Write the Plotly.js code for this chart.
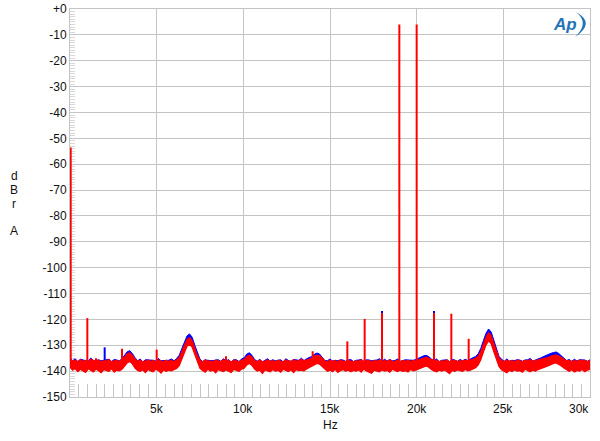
<!DOCTYPE html>
<html>
<head>
<meta charset="utf-8">
<script src="https://cdn.plot.ly/plotly-3.0.1.min.js"></script>
<style>
  html, body { margin: 0; padding: 0; background: #ffffff; }
  #chart { width: 600px; height: 441px; }
</style>
</head>
<body>
<div id="chart"></div>
<script>
// ---- Data ----
// FFT noise band (upper / lower envelope), read every 150 Hz from 0 Hz to 30 kHz
var freqStart = 0;
var freqStep = 150;

var redUpper = [
  -135.2,-136.1,-135.8,-136.4,-135.6,-136.2,-135.9,-136.6,-135.4,-136.0,
  -136.3,-135.7,-136.5,-135.9,-136.1,-135.5,-136.4,-136.0,-135.8,-136.3,
  -135.6,-134.6,-133.3,-132.9,-133.9,-135.3,-136.2,-135.8,-136.5,-136.0,
  -135.7,-136.3,-135.9,-136.6,-135.6,-136.1,-136.4,-135.8,-136.2,-135.9,
  -136.3,-135.6,-134.8,-132.4,-129.8,-127.8,-127.0,-128.3,-131.2,-134.0,
  -135.9,-136.4,-135.7,-136.2,-136.0,-136.5,-135.8,-136.1,-136.3,-135.6,
  -136.2,-135.9,-136.6,-135.7,-136.0,-136.4,-135.8,-135.5,-134.3,-133.8,
  -134.6,-135.9,-136.3,-135.8,-136.5,-136.0,-135.7,-136.2,-135.9,-136.4,
  -135.8,-136.1,-136.5,-135.7,-136.0,-136.3,-135.6,-136.2,-135.9,-135.5,
  -136.0,-135.6,-135.4,-135.0,-134.2,-133.8,-134.1,-135.1,-136.0,-136.4,
  -135.8,-136.2,-135.9,-136.5,-135.7,-136.1,-136.3,-135.8,-136.0,-136.4,
  -135.9,-136.2,-135.6,-136.3,-136.0,-135.8,-136.5,-135.9,-136.1,-135.7,
  -136.3,-135.9,-136.2,-135.6,-136.4,-136.0,-135.8,-136.3,-135.9,-136.1,
  -135.8,-136.2,-135.9,-136.0,-135.6,-135.3,-134.9,-134.6,-135.0,-135.7,
  -136.1,-135.8,-136.4,-135.9,-136.2,-135.7,-136.5,-136.0,-135.8,-136.3,
  -135.9,-136.1,-135.7,-136.0,-135.8,-135.4,-135.0,-134.2,-132.4,-129.6,
  -126.9,-125.2,-126.3,-129.3,-132.6,-135.0,-135.9,-136.3,-135.8,-136.2,
  -135.9,-136.4,-135.7,-136.1,-136.3,-135.8,-136.0,-135.6,-136.2,-135.9,
  -135.7,-135.5,-135.2,-134.9,-134.7,-134.2,-133.9,-133.7,-134.2,-134.9,
  -135.5,-136.0,-135.8,-136.3,-135.9,-136.2,-135.7,-136.1,-135.8,-136.3,
  -135.9
];

var redLower = [
  -138.4,-139.6,-139.0,-140.2,-139.3,-139.8,-140.5,-139.1,-139.7,-140.3,
  -139.2,-139.9,-140.6,-139.4,-139.8,-140.1,-139.0,-140.4,-139.6,-139.9,
  -139.3,-138.2,-136.8,-136.3,-137.2,-138.8,-139.7,-140.1,-139.5,-140.6,
  -139.4,-139.9,-140.3,-139.2,-139.8,-140.8,-139.5,-140.1,-139.6,-139.9,
  -139.5,-139.0,-137.9,-135.4,-132.5,-130.4,-129.6,-130.8,-133.6,-136.6,
  -138.9,-139.8,-140.4,-139.3,-140.0,-139.6,-140.7,-139.4,-139.9,-140.2,
  -139.5,-139.9,-140.5,-139.3,-139.8,-140.1,-139.2,-138.9,-137.6,-137.0,
  -137.8,-139.2,-140.0,-139.6,-140.9,-139.5,-139.9,-140.3,-139.4,-140.0,
  -139.7,-140.4,-139.3,-139.9,-140.2,-139.5,-140.6,-139.4,-139.8,-139.6,
  -139.9,-139.2,-138.7,-138.1,-137.4,-137.0,-137.3,-138.3,-139.4,-140.1,
  -139.6,-140.2,-139.3,-140.5,-139.8,-139.4,-140.0,-139.6,-140.3,-139.7,
  -140.0,-139.5,-140.4,-139.2,-139.9,-140.2,-140.8,-139.6,-139.9,-140.3,
  -139.5,-140.0,-139.7,-140.4,-139.3,-139.9,-140.2,-139.6,-140.1,-139.8,
  -140.3,-139.4,-139.9,-139.6,-139.2,-138.9,-138.3,-138.0,-138.5,-139.4,
  -139.9,-140.3,-139.6,-140.0,-139.5,-140.2,-141.0,-139.7,-140.1,-139.5,
  -139.8,-140.1,-139.4,-139.9,-139.6,-139.2,-138.7,-137.6,-135.6,-132.6,
  -129.9,-128.3,-129.4,-132.5,-135.8,-138.2,-139.5,-140.0,-140.6,-139.7,
  -140.2,-139.5,-140.0,-139.8,-140.4,-139.3,-139.9,-140.3,-139.6,-140.0,
  -139.4,-139.1,-138.8,-138.3,-137.9,-137.4,-137.0,-136.8,-137.3,-138.0,
  -138.8,-139.6,-140.1,-139.5,-140.3,-139.7,-140.0,-139.4,-140.2,-139.6,
  -139.3
];

var blueUpper = [
  -134.8,-136.0,-135.2,-136.3,-135.4,-135.7,-135.9,-136.2,-134.9,-135.9,
  -135.9,-135.6,-136.0,-135.8,-135.5,-135.4,-136.3,-135.5,-135.7,-136.0,
  -135.2,-133.9,-132.5,-132.1,-133.2,-134.8,-136.0,-135.3,-136.4,-135.6,
  -135.6,-135.8,-135.8,-136.1,-135.1,-136.0,-135.9,-135.7,-135.8,-135.3,
  -136.0,-135.1,-133.9,-131.3,-128.5,-126.4,-125.6,-126.9,-130.0,-133.1,
  -135.4,-136.3,-135.6,-135.8,-135.9,-136.0,-135.7,-135.6,-136.2,-135.2,
  -136.1,-135.5,-136.5,-135.6,-135.6,-136.3,-135.3,-134.8,-133.4,-132.9,
  -133.9,-135.5,-136.2,-135.4,-136.4,-135.9,-135.2,-136.1,-135.6,-136.0,
  -135.7,-135.6,-136.4,-135.2,-135.9,-136.2,-135.5,-135.7,-135.8,-135.0,
  -135.9,-135.2,-134.9,-134.3,-133.5,-133.0,-133.4,-134.6,-135.9,-136.0,
  -135.3,-136.1,-135.8,-136.0,-135.6,-135.7,-136.2,-135.7,-135.5,-136.3,
  -135.8,-135.7,-135.5,-136.2,-135.6,-135.7,-136.0,-135.8,-135.7,-135.2,
  -136.2,-135.4,-136.1,-135.5,-136.0,-135.9,-135.3,-136.2,-135.8,-135.6,
  -135.7,-135.8,-135.8,-135.5,-135.0,-134.6,-134.1,-133.9,-134.4,-135.3,
  -136.0,-135.3,-136.3,-135.8,-135.8,-135.6,-136.4,-135.5,-135.7,-136.2,
  -135.5,-136.0,-135.4,-135.9,-135.3,-134.9,-134.3,-133.3,-131.2,-128.2,
  -125.4,-123.7,-124.9,-128.0,-131.5,-134.3,-135.4,-136.2,-135.3,-136.1,
  -135.8,-135.9,-135.6,-135.7,-136.2,-135.7,-135.6,-135.1,-136.1,-135.8,
  -135.3,-134.9,-134.4,-133.9,-133.7,-133.1,-132.8,-132.6,-133.2,-134.1,
  -135.1,-135.9,-135.5,-136.2,-135.4,-136.1,-135.6,-135.7,-135.7,-136.2,
  -135.6
];

// Discrete spectral lines (Hz, dBr A)
var redSpikeFreq  = [40, 1000, 1500, 3000, 5000, 9000, 14000, 16000, 17000, 18000, 19000, 20000, 21000, 22000, 23000];
var redSpikeLevel = [-53.5, -119.5, -135.0, -131.3, -131.7, -134.2, -132.3, -128.5, -119.8, -117.5, -6.0, -6.0, -117.5, -117.8, -127.5];
var blueSpikeFreq  = [2000, 18000, 21000];
var blueSpikeLevel = [-130.8, -116.8, -116.8];
var spikeBase = -137.8;

// Axis ticks
var yTickVals = [0, -10, -20, -30, -40, -50, -60, -70, -80, -90, -100, -110, -120, -130, -140, -150];
var yTickText = ["+0", "-10", "-20", "-30", "-40", "-50", "-60", "-70", "-80", "-90", "-100", "-110", "-120", "-130", "-140", "-150"];
var xTickVals = [5000, 10000, 15000, 20000, 25000, 30000];
var xTickText = ["5k", "10k", "15k", "20k", "25k", "30k"];

// ---- Build traces ----
function freqs(n) { var a = []; for (var i = 0; i < n; i++) a.push(freqStart + i * freqStep); return a; }
function spikeXY(fs, ls) {
  var x = [], y = [];
  for (var i = 0; i < fs.length; i++) { x.push(fs[i], fs[i], null); y.push(spikeBase, ls[i], null); }
  return {x: x, y: y};
}
var bs = spikeXY(blueSpikeFreq, blueSpikeLevel);
var rs = spikeXY(redSpikeFreq, redSpikeLevel);
var fx = freqs(redUpper.length);

var BLUE = '#0000ff', RED = '#ff0000';
var traces = [
  // blue band: only its part above the red band is visible
  {x: fx, y: redLower, mode: 'lines', line: {color: 'rgba(0,0,0,0)', width: 0}, hoverinfo: 'skip'},
  {x: fx, y: blueUpper, mode: 'lines', fill: 'tonexty', fillcolor: BLUE, line: {color: BLUE, width: 1}, hoverinfo: 'skip'},
  {x: bs.x, y: bs.y, mode: 'lines', line: {color: BLUE, width: 2}, hoverinfo: 'skip'},
  // red band
  {x: fx, y: redLower, mode: 'lines', line: {color: RED, width: 1.2}, hoverinfo: 'skip'},
  {x: fx, y: redUpper, mode: 'lines', fill: 'tonexty', fillcolor: RED, line: {color: RED, width: 1.2}, hoverinfo: 'skip'},
  {x: rs.x, y: rs.y, mode: 'lines', line: {color: RED, width: 2}, hoverinfo: 'skip'}
];

// ---- Layout ----
var L = 70, R = 10, T = 9, B = 44, W = 600, H = 441;
function px(xp) { return (xp - L) / (W - L - R); }
function py(yp) { return 1 - (yp - T) / (H - T - B); }

var FONT = 'Liberation Sans, Arial, Helvetica, sans-serif';
var GRID = '#c4c4c4';

var annotations = [];
// last tick label (30k) sits right-aligned at the frame edge
for (var i = 0; i < xTickVals.length; i++) {
  var last = (i === xTickVals.length - 1);
  annotations.push({x: xTickVals[i], xref: 'x', y: py(409), yref: 'paper', text: xTickText[i],
    showarrow: false, xanchor: last ? 'right' : 'center', yanchor: 'middle', xshift: last ? 1 : 0,
    font: {family: FONT, size: 12, color: '#111'}});
}
var yLetters = [['d', 176], ['B', 190], ['r', 204], ['A', 231]];
yLetters.forEach(function (p) {
  annotations.push({x: px(14), xref: 'paper', y: py(p[1]), yref: 'paper', text: p[0], showarrow: false,
    xanchor: 'center', yanchor: 'middle', font: {family: FONT, size: 12, color: '#111'}});
});
annotations.push({x: px(330), xref: 'paper', y: py(425), yref: 'paper', text: 'Hz', showarrow: false,
  xanchor: 'center', yanchor: 'middle', font: {family: FONT, size: 12, color: '#111'}});
// Ap logo
annotations.push({x: px(565), xref: 'paper', y: py(25), yref: 'paper', text: '<b><i>Ap</i></b>', showarrow: false,
  xanchor: 'center', yanchor: 'middle', font: {family: FONT, size: 17, color: '#1f74b8'}});

var logoPath = 'M ' + px(576) + ',' + py(12) + ' Q ' + px(596) + ',' + py(23) + ' ' + px(575) + ',' + py(37) +
  ' Q ' + px(590) + ',' + py(23) + ' ' + px(576) + ',' + py(12) + ' Z';

var layout = {
  width: W, height: H,
  margin: {l: L, r: R, t: T, b: B, pad: 0},
  paper_bgcolor: '#ffffff', plot_bgcolor: '#ffffff',
  showlegend: false,
  font: {family: FONT, size: 12, color: '#111'},
  xaxis: {
    range: [0, 30000], fixedrange: true, layer: 'below traces',
    tickvals: xTickVals, ticktext: xTickVals.map(function () { return ''; }),
    showgrid: true, gridcolor: GRID, gridwidth: 1,
    zeroline: false, showline: true, linecolor: GRID, linewidth: 1, mirror: true,
    ticks: 'inside', ticklen: 13, tickcolor: GRID, tickwidth: 1,
    minor: {dtick: 500, tick0: 0, ticks: 'inside', ticklen: 13, tickcolor: GRID, tickwidth: 1, showgrid: false}
  },
  yaxis: {
    range: [-150, 0], fixedrange: true, layer: 'below traces',
    tickvals: yTickVals, ticktext: yTickText,
    showgrid: true, gridcolor: GRID, gridwidth: 1,
    zeroline: false, showline: true, linecolor: GRID, linewidth: 1, mirror: true,
    ticks: 'inside', ticklen: 5, tickcolor: GRID, tickwidth: 1,
    tickfont: {family: FONT, size: 12, color: '#111'},
    minor: {dtick: 1, tick0: 0, ticks: 'inside', ticklen: 5, tickcolor: '#d8d8d8', tickwidth: 1, showgrid: false}
  },
  annotations: annotations,
  shapes: [{type: 'path', xref: 'paper', yref: 'paper', path: logoPath, fillcolor: '#1f74b8', line: {width: 0}}]
};

Plotly.newPlot('chart', traces, layout, {staticPlot: true, displayModeBar: false});
</script>
</body>
</html>
